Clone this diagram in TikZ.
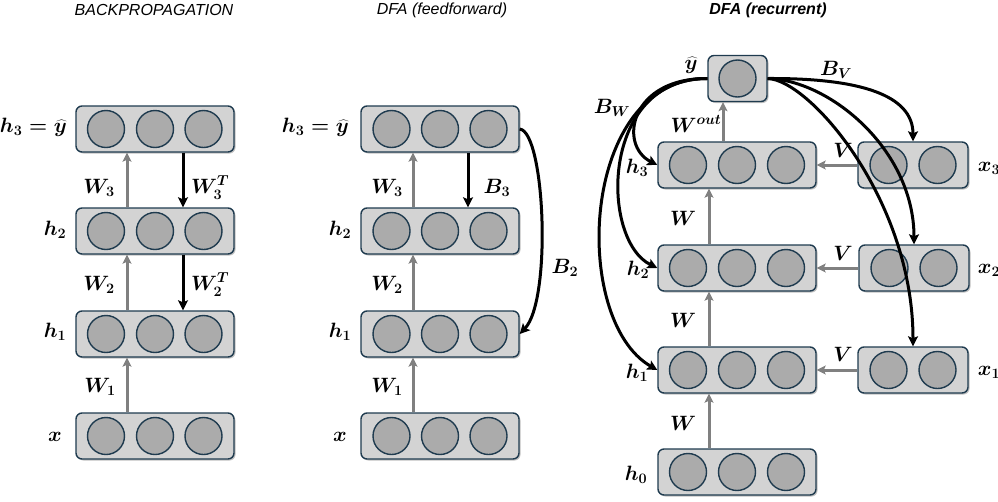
\documentclass[tikz,border=0pt]{standalone}
\usepackage{fontspec}
\newfontfamily\titlefont{Liberation Sans}
\usetikzlibrary{arrows.meta,shadows}

\definecolor{boxfill}{HTML}{D3D3D3}
\definecolor{boxline}{HTML}{1F3B4F}
\definecolor{cellfill}{HTML}{ABABAB}
\definecolor{fwdgray}{HTML}{808080}

\tikzset{
  layerbox/.style={draw=boxline, fill=boxfill, line width=1.4pt, rounded corners=6pt,
    minimum height=46pt, inner sep=0pt,
    drop shadow={shadow xshift=1.5pt, shadow yshift=-1.5pt, opacity=0.35, fill=black!70}},
  unit/.style={circle, draw=boxline, fill=cellfill, line width=1.4pt,
    minimum size=37pt, inner sep=0pt},
  fwdarrow/.style={draw=fwdgray, line width=3pt, -{Stealth[length=9pt,width=9pt,inset=2pt]}},
  fbarrow/.style={draw=black, line width=3pt, -{Stealth[length=10pt,width=10pt,inset=2pt]}},
  lab/.style={font=\boldmath\fontsize{20}{24}\selectfont, inner sep=0pt},
  paneltitle/.style={font=\titlefont\itshape\fontsize{16}{18}\selectfont, inner sep=0pt}
}

% one layer: name, x, y, box width, unit offsets
\newcommand\nnlayer[5]{%
  \node[layerbox, minimum width=#4pt] (#1) at (#2,#3) {};
  \foreach \o [count=\k] in {#5} \node[unit] (#1-\k) at ([xshift=\o pt]#1.center) {};
}

\begin{document}
\begin{tikzpicture}[x=1pt, y=-1pt]
\useasboundingbox (0,0) rectangle (998,501);

% ---------------- backpropagation ----------------
\node[paneltitle] (t1) at (154,10) {BACKPROPAGATION};
\nnlayer{a3}{155}{129}{158}{-49,0,48.5}
\nnlayer{a2}{155}{231}{158}{-49,0,48.5}
\nnlayer{a1}{155}{334}{158}{-49,0,48.5}
\nnlayer{a0}{155}{436}{158}{-49,0,48.5}
\node[lab, anchor=east] (la3) at (67,127) {$h_3=\widehat{y}$};
\node[lab] (la2) at (55,230) {$h_2$};
\node[lab] (la1) at (55,332) {$h_1$};
\node[lab] (la0) at (55,437) {$x$};
\draw[fwdarrow] ([xshift=-28pt]a0.north) -- ([xshift=-28pt]a1.south);
\draw[fwdarrow] ([xshift=-28pt]a1.north) -- ([xshift=-28pt]a2.south);
\draw[fwdarrow] ([xshift=-28pt]a2.north) -- ([xshift=-28pt]a3.south);
\draw[fbarrow] ([xshift=28pt]a3.south) -- ([xshift=28pt]a2.north);
\draw[fbarrow] ([xshift=28pt]a2.south) -- ([xshift=28pt]a1.north);
\node[lab] (wa3) at (99,188) {$W_3$};
\node[lab] (wa2) at (99,285) {$W_2$};
\node[lab] (wa1) at (100,387) {$W_1$};
\node[lab] (wt3) at (210,188) {$W_3^T$};
\node[lab] (wt2) at (210,285) {$W_2^T$};

% ---------------- DFA, feedforward ----------------
\node[paneltitle] (t2) at (442,10) {DFA (feedforward)};
\nnlayer{b3}{440}{129}{158}{-48.5,0,48.5}
\nnlayer{b2}{440}{231}{158}{-48.5,0,48.5}
\nnlayer{b1}{440}{334}{158}{-48.5,0,48.5}
\nnlayer{b0}{440}{436}{158}{-48.5,0,48.5}
\node[lab, anchor=east] (lb3) at (349,127) {$h_3=\widehat{y}$};
\node[lab] (lb2) at (340,230) {$h_2$};
\node[lab] (lb1) at (340,332) {$h_1$};
\node[lab] (lb0) at (340,437) {$x$};
\draw[fwdarrow] ([xshift=-27pt]b0.north) -- ([xshift=-27pt]b1.south);
\draw[fwdarrow] ([xshift=-27pt]b1.north) -- ([xshift=-27pt]b2.south);
\draw[fwdarrow] ([xshift=-27pt]b2.north) -- ([xshift=-27pt]b3.south);
\draw[fbarrow] ([xshift=28pt]b3.south) -- ([xshift=28pt]b2.north);
\draw[fbarrow] (b3.east) .. controls (545,132) and (552,300) .. (b1.east);
\node[lab] (wb3) at (387,188) {$W_3$};
\node[lab] (wb2) at (387,285) {$W_2$};
\node[lab] (wb1) at (387,387) {$W_1$};
\node[lab] (bb3) at (497,188) {$B_3$};
\node[lab] (bb2) at (565,268) {$B_2$};

% ---------------- DFA, recurrent ----------------
\node[paneltitle, font=\titlefont\bfseries\itshape\fontsize{16}{18}\selectfont] (t3) at (768,10) {DFA (recurrent)};
\nnlayer{yh}{737.5}{78.5}{59}{0}
\nnlayer{h3}{737}{165}{158}{-49,0,49}
\nnlayer{h2}{737}{268}{158}{-49,0,49}
\nnlayer{h1}{737}{370}{158}{-49,0,49}
\nnlayer{h0}{737}{472}{158}{-49,0,49}
\nnlayer{x3}{913}{165}{110}{-24.5,24.5}
\nnlayer{x2}{914}{268}{110}{-24.5,24.5}
\nnlayer{x1}{913}{370}{110}{-24.5,24.5}

\draw[fwdarrow] ([xshift=-28pt]h0.north) -- ([xshift=-28pt]h1.south);
\draw[fwdarrow] ([xshift=-28pt]h1.north) -- ([xshift=-28pt]h2.south);
\draw[fwdarrow] ([xshift=-28pt]h2.north) -- ([xshift=-28pt]h3.south);
\draw[fwdarrow] ([xshift=-14pt]h3.north) -- ([xshift=-14.5pt]yh.south);
\draw[fwdarrow] (x3.west) -- (h3.east);
\draw[fwdarrow] (x2.west) -- (h2.east);
\draw[fwdarrow] (x1.west) -- (h1.east);

\node[lab] (lyh) at (691,65) {$\widehat{y}$};
\node[lab] (lh3) at (637,168) {$h_3$};
\node[lab] (lh2) at (638,270) {$h_2$};
\node[lab] (lh1) at (637,373) {$h_1$};
\node[lab] (lh0) at (636,475) {$h_0$};
\node[lab] (lx3) at (989,168) {$x_3$};
\node[lab] (lx2) at (989,270) {$x_2$};
\node[lab] (lx1) at (989,372) {$x_1$};
\node[lab] (lwout) at (696,124) {$W^{out}$};
\node[lab] (lw3) at (683,218) {$W$};
\node[lab] (lw2) at (683,320) {$W$};
\node[lab] (lw1) at (683,423) {$W$};
\node[lab] (lv3) at (843,150) {$V$};
\node[lab] (lv2) at (843,253) {$V$};
\node[lab] (lv1) at (843,354) {$V$};
\node[lab] (lbw) at (612,108) {$B_W$};
\node[lab] (lbv) at (836,70) {$B_V$};

% direct feedback from the output to every hidden state
\draw[fbarrow] (yh.west) .. controls (630,78) and (618,145) .. (h3.west);
\draw[fbarrow] (yh.west) .. controls (600,78) and (600,240) .. (h2.west);
\draw[fbarrow] (yh.west) .. controls (580,78) and (570,320) .. (h1.west);
\draw[fbarrow] (yh.east) .. controls (860,78) and (913,95) .. (x3.north);
\draw[fbarrow] (yh.east) .. controls (830,80) and (914,150) .. (x2.north);
\draw[fbarrow] (yh.east) .. controls (810,80) and (913,200) .. (x1.north);
\end{tikzpicture}
\end{document}
